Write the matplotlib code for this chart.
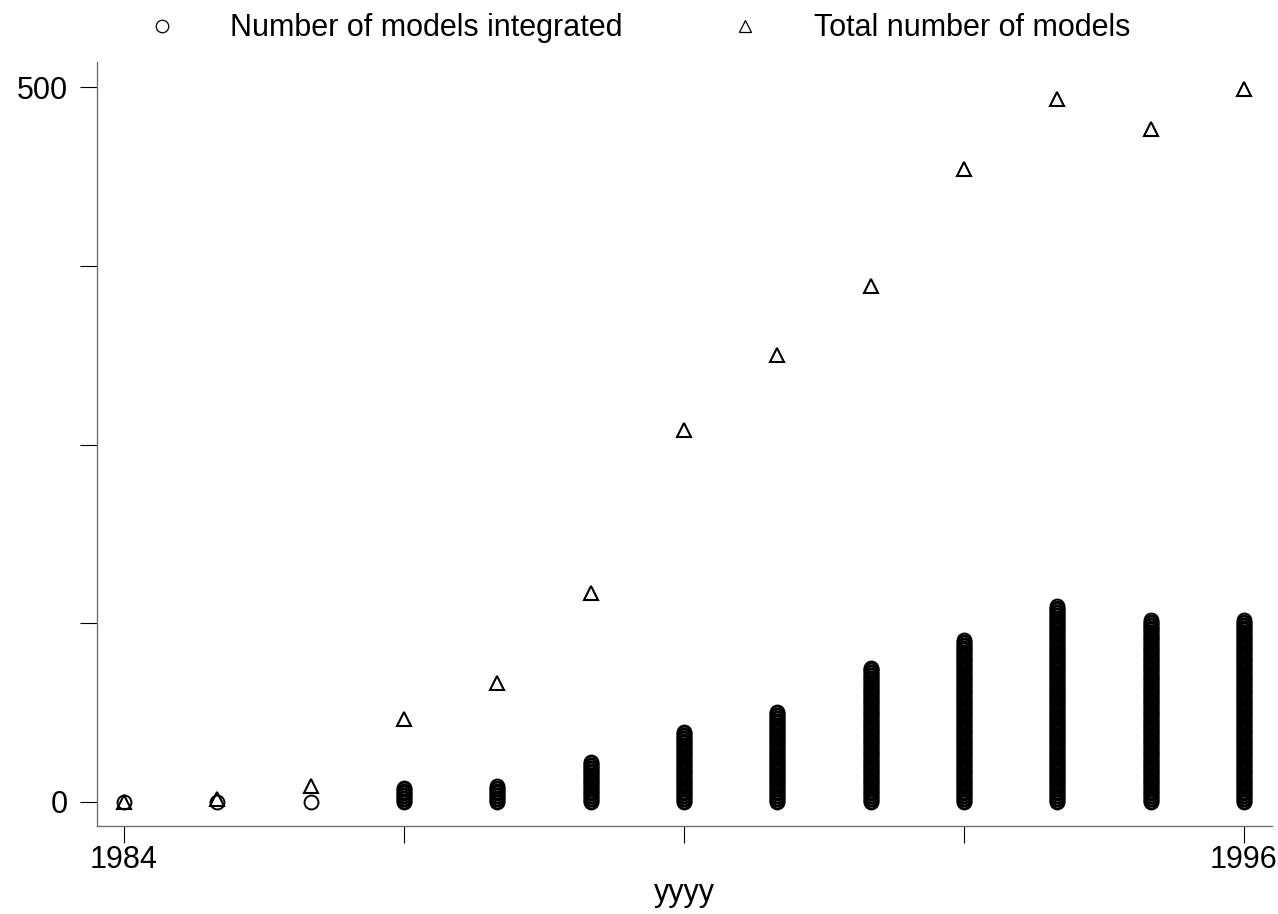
import numpy as np
import matplotlib
matplotlib.use("Agg")
import matplotlib.pyplot as plt
from matplotlib.lines import Line2D

plt.rcParams['font.family'] = ['Liberation Sans', 'DejaVu Sans']

years = [1984, 1985, 1986, 1987, 1988, 1989, 1990, 1991, 1992, 1993, 1994, 1995, 1996]
# highest value of the "integrated" observations per year (columns run from 0 up to this)
integrated_max = [0, 0, 0, 10, 11, 28, 49, 63, 94, 113, 137, 127, 127]
total_models = [0, 2, 11, 58, 83, 146, 260, 313, 361, 443, 492, 471, 499]

xticks = [1984, 1987, 1990, 1993, 1996]
xticklabels = ['1984', '', '', '', '1996']
yticks = [0, 125, 250, 375, 500]
yticklabels = ['0', '', '', '', '500']

fig = plt.figure(figsize=(12.78, 9.14), dpi=100)
ax = fig.add_axes([0.0759, 0.0963, 0.9194, 0.8359])

# build integrated observations
ix, iy = [], []
for yr, m in zip(years, integrated_max):
    vals = np.arange(0, m + 1)
    ix.extend([yr] * len(vals))
    iy.extend(vals)

ax.plot(ix, iy, linestyle='none', marker='o', markersize=10,
        markerfacecolor='none', markeredgecolor='black', markeredgewidth=1.4)
ax.plot(years, total_models, linestyle='none', marker='^', markersize=10,
        markerfacecolor='none', markeredgecolor='black', markeredgewidth=1.5)

ax.set_xlim(1983.711, 1996.3)
ax.set_ylim(-16.8, 517.8)
ax.set_xticks(xticks)
ax.set_xticklabels(xticklabels)
ax.set_yticks(yticks)
ax.set_yticklabels(yticklabels)

for s in ['top', 'right']:
    ax.spines[s].set_visible(False)
for s in ['left', 'bottom']:
    ax.spines[s].set_color('#666666')
    ax.spines[s].set_linewidth(0.9)

ax.tick_params(axis='both', direction='out', length=12, width=0.8, color='black',
               labelsize=22)
ax.tick_params(axis='y', pad=9)
ax.tick_params(axis='x', pad=2)
ax.set_xlabel('yyyy', fontsize=22, labelpad=2)

handles = [
    Line2D([], [], linestyle='none', marker='o', markersize=9, markerfacecolor='none',
           markeredgecolor='black', markeredgewidth=0.9),
    Line2D([], [], linestyle='none', marker='^', markersize=8.5, markerfacecolor='none',
           markeredgecolor='black', markeredgewidth=0.9),
]
fig.legend(handles, ['Number of models integrated', 'Total number of models'],
           loc='center', bbox_to_anchor=(0.4995, 0.969), ncol=2, frameon=False,
           fontsize=22, handletextpad=1.75, columnspacing=3.5, handlelength=1.0)

fig.savefig('out.png', dpi=100, facecolor='white')
